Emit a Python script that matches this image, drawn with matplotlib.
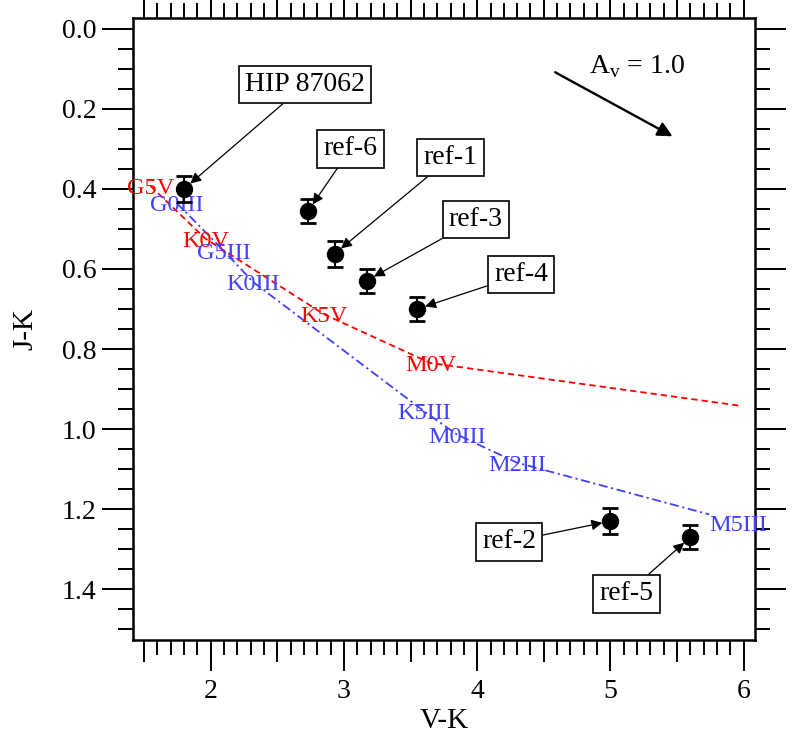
"""Diagramme couleur-couleur J-K vs V-K : HIP 87062, étoiles de référence,
séquences naines (rouge) et géantes (bleu), vecteur de rougissement Av = 1."""
import numpy as np
import matplotlib
matplotlib.use("Agg")
import matplotlib.pyplot as plt
from matplotlib.ticker import FixedLocator, NullFormatter, FormatStrFormatter

plt.rcParams["font.family"] = ["Liberation Serif", "DejaVu Serif"]
plt.rcParams["mathtext.fontset"] = "custom"
plt.rcParams["mathtext.rm"] = "Liberation Serif"

# --- données ---
star_names = ["HIP 87062", "ref-6", "ref-1", "ref-3", "ref-4", "ref-2", "ref-5"]
star_vk = [1.80, 2.73, 2.93, 3.17, 3.55, 5.00, 5.60]
star_jk = [0.400, 0.456, 0.562, 0.629, 0.700, 1.230, 1.270]
star_err = [0.033, 0.030, 0.033, 0.030, 0.030, 0.033, 0.030]
# positions des étiquettes encadrées (V-K, J-K)
box_vk = [2.71, 3.05, 3.80, 3.99, 4.33, 4.24, 5.12]
box_jk = [0.139, 0.300, 0.322, 0.477, 0.614, 1.282, 1.412]

dwarf_track_vk = [1.55, 1.96, 2.85, 3.65, 5.98]
dwarf_track_jk = [0.393, 0.524, 0.713, 0.835, 0.942]
dwarf_labels = ["G5V", "K0V", "K5V", "M0V"]
dwarf_lab_vk = [1.55, 1.96, 2.85, 3.65]
dwarf_lab_jk = [0.393, 0.524, 0.713, 0.835]

giant_track_vk = [1.745, 2.10, 2.32, 3.60, 3.85, 4.30, 5.74]
giant_track_jk = [0.435, 0.555, 0.633, 0.955, 1.014, 1.084, 1.213]
giant_labels = ["G0III", "G5III", "K0III", "K5III", "M0III", "M2III", "M5III"]
giant_lab_vk = [1.745, 2.10, 2.32, 3.60, 3.85, 4.30, 5.96]
giant_lab_jk = [0.435, 0.555, 0.633, 0.955, 1.014, 1.084, 1.235]

av_start = (4.585, 0.1085)
av_end = (5.466, 0.2685)

RED = "#ff0000"
BLUE = "#4040ff"

fig = plt.figure(figsize=(8.09, 7.36), dpi=100)
ax = fig.add_axes([0.164, 0.1304, 0.769, 0.8451])

ax.plot(dwarf_track_vk, dwarf_track_jk, color=RED, lw=1.3, ls=(0, (3.5, 2.2)))
ax.plot(giant_track_vk, giant_track_jk, color=BLUE, lw=1.3,
        ls=(0, (5, 2, 1.2, 2)))
for lab, x, y in zip(dwarf_labels, dwarf_lab_vk, dwarf_lab_jk):
    ax.text(x, y, lab, color=RED, fontsize=17.5, ha="center", va="center_baseline")
for lab, x, y in zip(giant_labels, giant_lab_vk, giant_lab_jk):
    ax.text(x, y, lab, color=BLUE, fontsize=17.5, ha="center", va="center_baseline")

ax.errorbar(star_vk, star_jk, yerr=star_err, fmt="o", color="black", ms=11.5,
            elinewidth=1.5, capsize=6, capthick=2, zorder=5)

for name, x, y, bx, by in zip(star_names, star_vk, star_jk, box_vk, box_jk):
    ax.annotate(name, xy=(x, y), xytext=(bx, by), fontsize=20,
                ha="center", va="center",
                bbox=dict(boxstyle="square,pad=0.22", fc="white", ec="black", lw=1.2),
                arrowprops=dict(arrowstyle="-|>", color="black", lw=0.9,
                                mutation_scale=16, shrinkA=0, shrinkB=6),
                zorder=6)

ax.annotate("", xy=av_end, xytext=av_start,
            arrowprops=dict(arrowstyle="-|>", color="black", lw=1.7,
                            mutation_scale=22, shrinkA=0, shrinkB=0))
ax.text(4.84, 0.11, r"A$_{\rm v}$ = 1.0", fontsize=20, ha="left", va="baseline")

ax.set_xlim(1.415, 6.083)
ax.set_ylim(1.527, -0.027)

# graduations : majeures, intermédiaires (0.5) et mineures
ax.xaxis.set_major_locator(FixedLocator([2, 3, 4, 5, 6]))
x_minor = [round(v, 1) for v in np.arange(1.5, 6.05, 0.1) if abs(v - round(v)) > 1e-6]
ax.xaxis.set_minor_locator(FixedLocator(x_minor))
ax.xaxis.set_major_formatter(FormatStrFormatter("%d"))
ax.yaxis.set_major_locator(FixedLocator([0.0, 0.2, 0.4, 0.6, 0.8, 1.0, 1.2, 1.4]))
y_minor = [round(v, 2) for v in np.arange(0.0, 1.51, 0.05)
           if abs(v / 0.2 - round(v / 0.2)) > 1e-6]
ax.yaxis.set_minor_locator(FixedLocator(y_minor))
ax.yaxis.set_major_formatter(FormatStrFormatter("%.1f"))
ax.xaxis.set_minor_formatter(NullFormatter())

ax.tick_params(which="both", direction="out", top=True, right=True, width=1.4,
               labelsize=20)
ax.tick_params(which="major", length=22)
ax.tick_params(which="minor", length=11)
ax.tick_params(axis="x", which="major", pad=6)
ax.tick_params(axis="y", which="major", pad=4)
for sp in ax.spines.values():
    sp.set_linewidth(1.8)

fig.canvas.draw()
for t, v in zip(ax.xaxis.get_minor_ticks(), x_minor):
    if abs(v * 2 - round(v * 2)) < 1e-6:
        t.tick1line.set_markersize(16)
        t.tick2line.set_markersize(16)

ax.set_xlabel("V-K", fontsize=21)
ax.set_ylabel("J-K", fontsize=21)
ax.xaxis.set_label_coords(0.5, -0.13)
ax.xaxis.label.set_va("center")
ax.yaxis.set_label_coords(-0.173, 0.5)
ax.yaxis.label.set_va("center")

fig.savefig("out.png", dpi=100)
